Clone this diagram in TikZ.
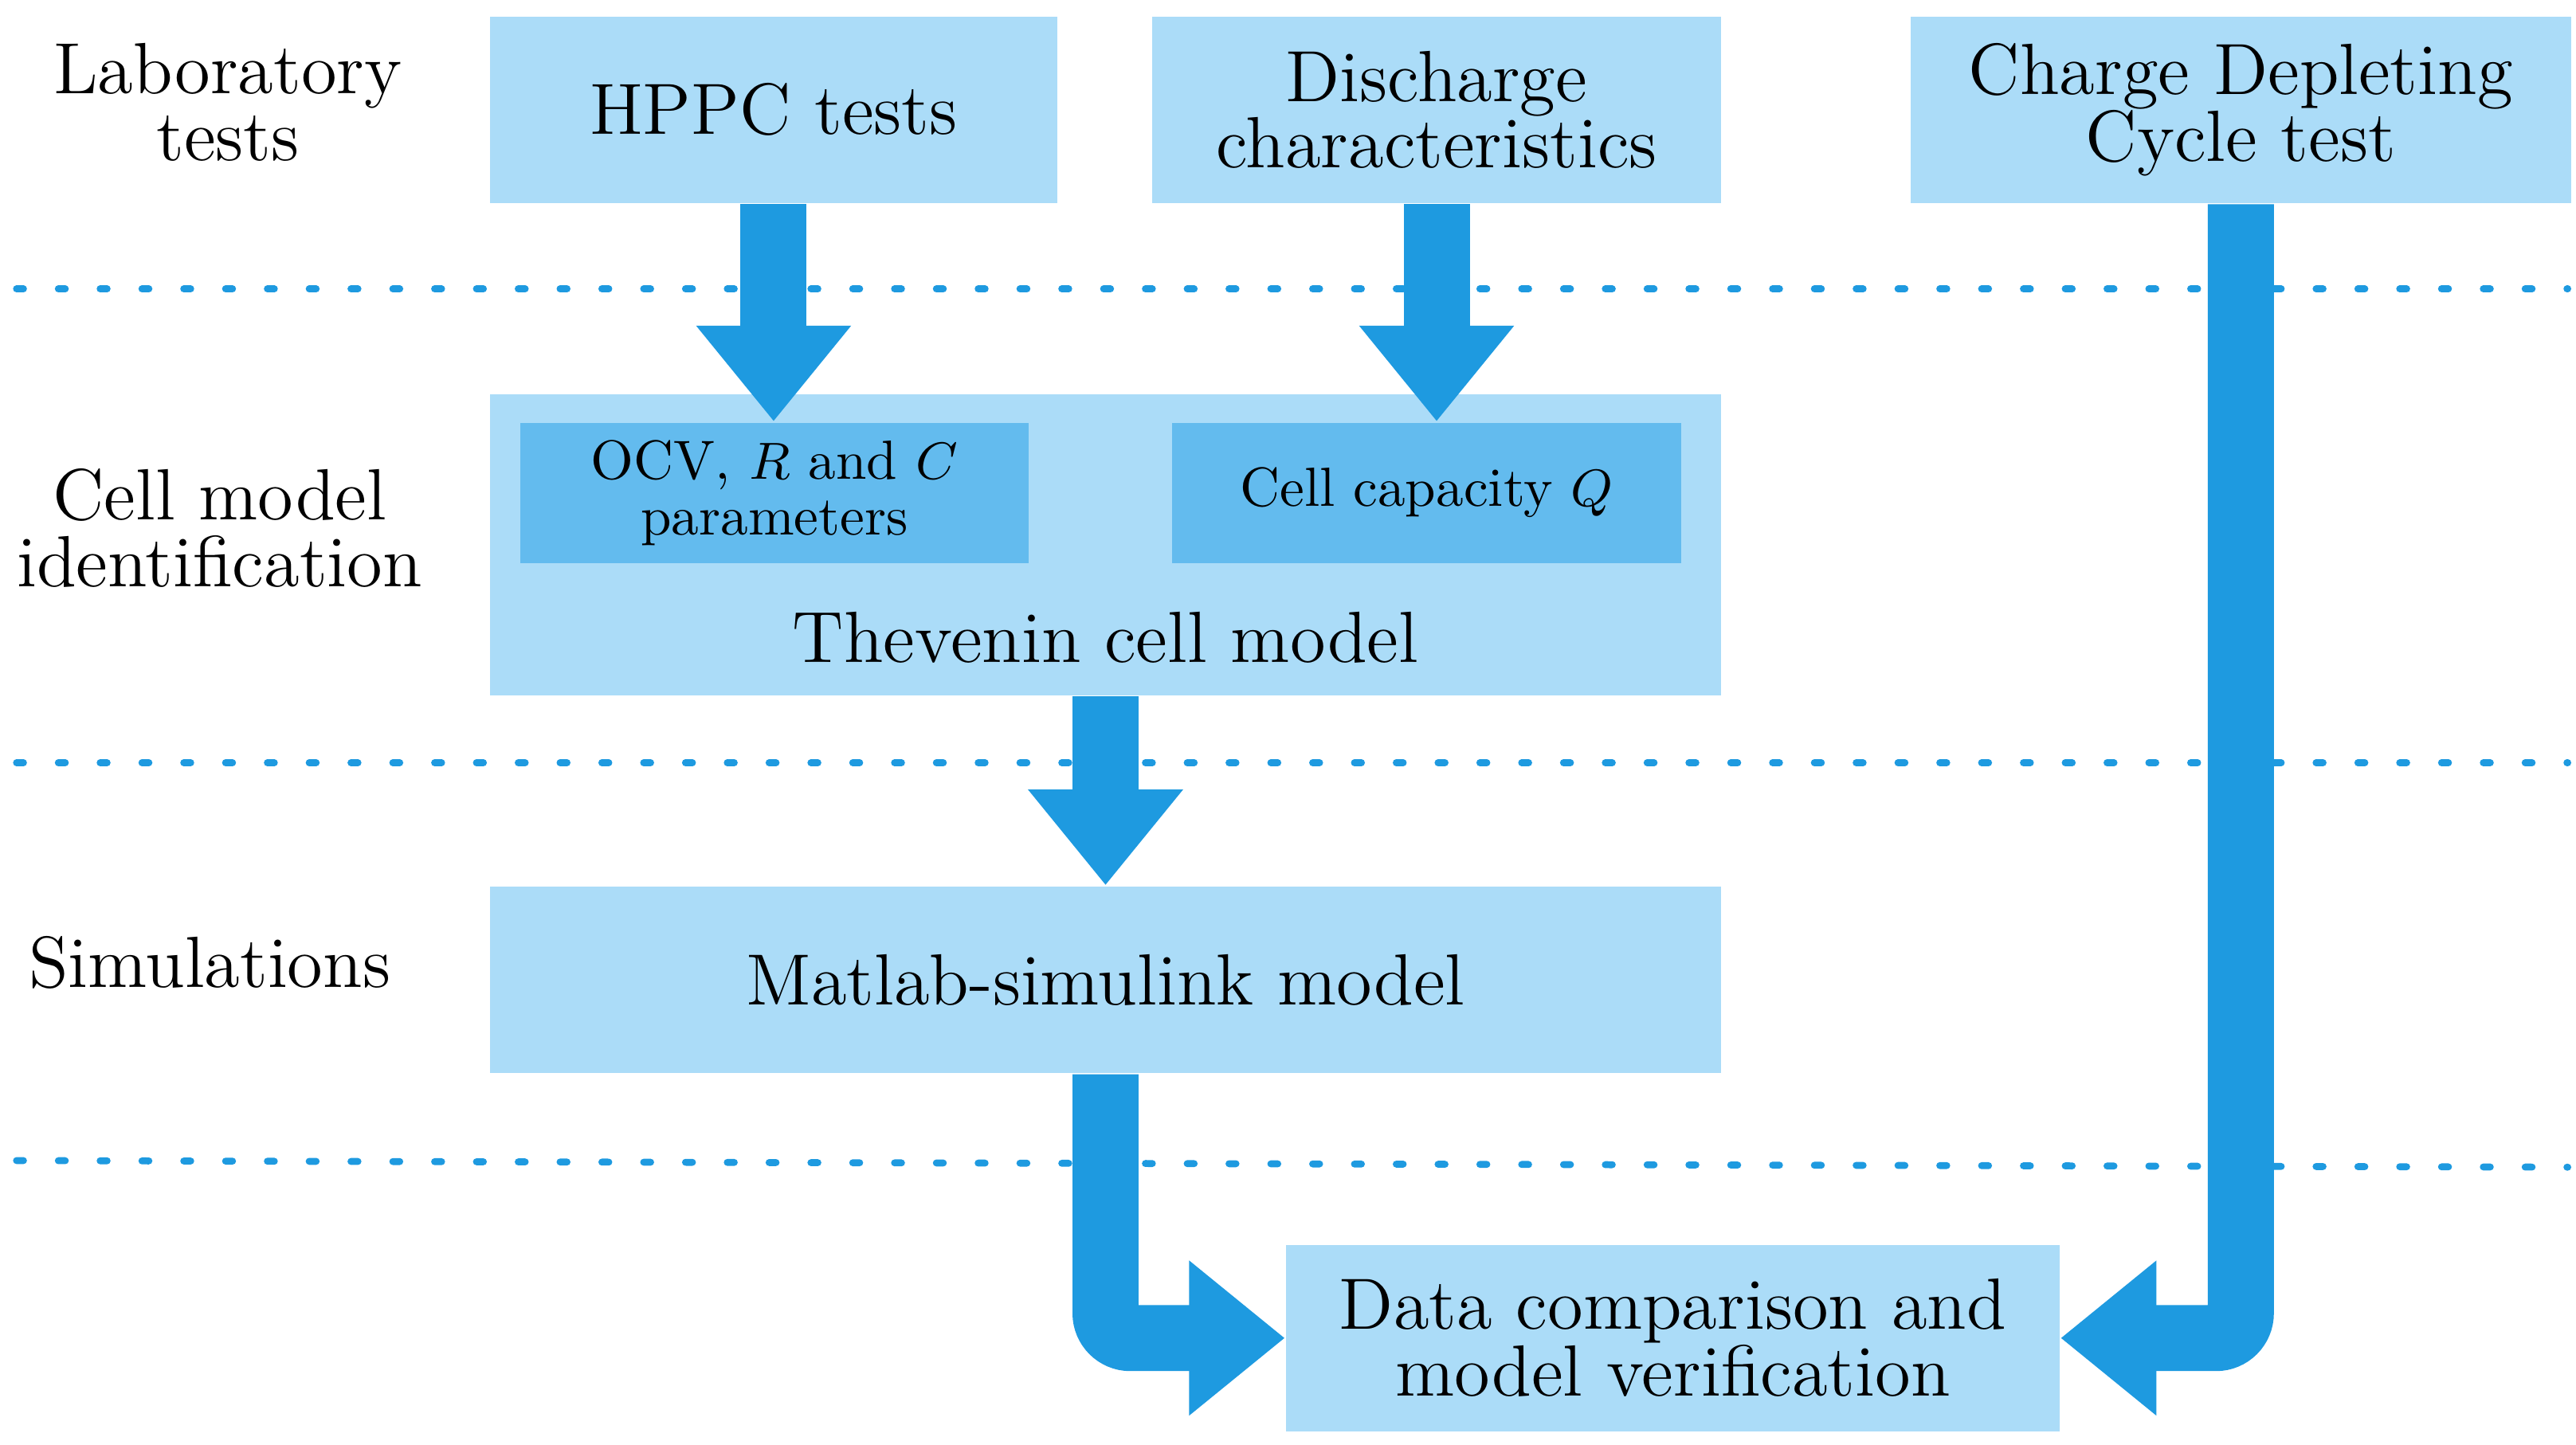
\documentclass[tikz,border=0pt]{standalone}
\usetikzlibrary{arrows.meta}
\definecolor{boxblue}{HTML}{ABDCF8}
\definecolor{innerblue}{HTML}{63BBEE}
\definecolor{arrowblue}{HTML}{1E9AE0}
\tikzset{
  box/.style={fill=boxblue, inner sep=0pt, align=center, font=\fontsize{12.5}{11.5}\selectfont},
  inbox/.style={fill=innerblue, inner sep=0pt, align=center, font=\fontsize{9.5}{9.6}\selectfont},
  lbl/.style={align=center, font=\fontsize{12.5}{11.5}\selectfont},
  flow/.style={arrowblue, line width=0.4cm, rounded corners=0.15cm,
    -{Triangle[width=0.9cm,length=0.58cm]}},
  sep/.style={arrowblue, line width=1.2pt, dash pattern=on 1.2pt off 6pt, line cap=round}
}
\begin{document}
\begin{tikzpicture}[x=0.01cm, y=-0.01cm]
  \useasboundingbox (0,0) rectangle (1560,875);

  % separators
  \draw[sep] (10,175) -- (1555,175);
  \draw[sep] (10,462) -- (1555,462);
  \draw[sep] (10,703) -- (1555,707);

  % row labels
  \node[lbl] (lab) at (138,62) {Laboratory\\tests};
  \node[lbl] (ident) at (133,320) {Cell model\\identification};
  \node[lbl] (sim) at (127,583) {Simulations};

  % boxes
  \node[box, minimum width=3.43cm, minimum height=1.13cm] (hppc) at (468.5,66.5) {HPPC tests};
  \node[box, minimum width=3.44cm, minimum height=1.13cm] (disch) at (870,66.5) {Discharge\\characteristics};
  \node[box, minimum width=4.00cm, minimum height=1.13cm] (cdc) at (1357,66.5) {Charge Depleting\\Cycle test};
  \node[box, minimum width=7.45cm, minimum height=1.82cm] (thev) at (669.5,330) {};
  \node[lbl] (thevtxt) at (669.5,386) {Thevenin cell model};
  \node[inbox, minimum width=3.08cm, minimum height=0.85cm] (ocv) at (469,298.5) {OCV, $R$ and $C$\\parameters};
  \node[inbox, minimum width=3.08cm, minimum height=0.85cm] (cap) at (864,298.5) {Cell capacity $Q$};
  \node[box, minimum width=7.45cm, minimum height=1.13cm] (mat) at (669.5,593.5) {Matlab-simulink model};
  \node[box, minimum width=4.68cm, minimum height=1.13cm] (data) at (1013,810.5) {Data comparison and\\model verification};

  % arrows
  \draw[flow] (hppc.south) -- (hppc.south |- ocv.north);
  \draw[flow] (disch.south) -- (disch.south |- cap.north);
  \draw[flow] (thev.south) -- (mat.north);
  \draw[flow] (mat.south) |- (data.west);
  \draw[flow] (cdc.south) |- (data.east);
\end{tikzpicture}
\end{document}
